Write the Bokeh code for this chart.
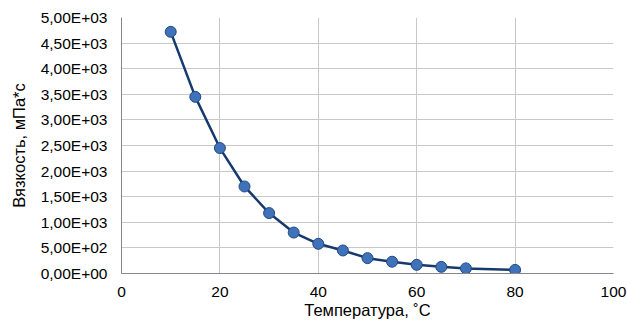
from bokeh.plotting import figure
from bokeh.models import FixedTicker, Range1d
from bokeh.embed import file_html
from bokeh.resources import INLINE

temperature = [10, 15, 20, 25, 30, 35, 40, 45, 50, 55, 60, 65, 70, 80]
viscosity = [4720, 3450, 2450, 1700, 1180, 800, 580, 450, 300, 230, 170, 130, 100, 70]

x_ticks = [0, 20, 40, 60, 80, 100]
y_ticks = [0, 500, 1000, 1500, 2000, 2500, 3000, 3500, 4000, 4500, 5000]
y_tick_labels = ["0,00E+00", "5,00E+02", "1,00E+03", "1,50E+03", "2,00E+03", "2,50E+03",
                 "3,00E+03", "3,50E+03", "4,00E+03", "4,50E+03", "5,00E+03"]

FONT = "Liberation Sans"

p = figure(frame_width=492, frame_height=256, output_backend="svg", toolbar_location=None,
           x_range=Range1d(0, 100), y_range=Range1d(0, 5000),
           min_border_left=121, min_border_right=14, min_border_top=17, min_border_bottom=51)
p.outline_line_color = None
p.background_fill_color = "white"
p.border_fill_color = "white"

p.xaxis.ticker = FixedTicker(ticks=x_ticks)
p.yaxis.ticker = FixedTicker(ticks=y_ticks)
p.yaxis.major_label_overrides = {t: l for t, l in zip(y_ticks, y_tick_labels)}

for ax in (p.xaxis, p.yaxis):
    ax.axis_line_color = "#868686"
    ax.major_tick_line_color = None
    ax.minor_tick_line_color = None
    ax.major_tick_in = 0
    ax.major_tick_out = 0
    ax.minor_tick_in = 0
    ax.minor_tick_out = 0
    ax.major_label_text_font = FONT
    ax.major_label_text_font_size = "15.5px"
    ax.major_label_text_color = "#000000"
    ax.axis_label_text_font = FONT
    ax.axis_label_text_font_size = "16.5px"
    ax.axis_label_text_font_style = "normal"
    ax.axis_label_text_color = "#000000"

p.xaxis.axis_label = "Температура, ˚С"
p.yaxis.axis_label = "Вязкость, мПа*с"
p.xaxis.major_label_standoff = 13
p.xaxis.axis_label_standoff = 1
p.yaxis.major_label_standoff = 14
p.yaxis.axis_label_standoff = 10

p.xgrid.ticker = FixedTicker(ticks=x_ticks)
p.ygrid.ticker = FixedTicker(ticks=y_ticks)
p.xgrid.grid_line_color = "#c8c8c8"
p.ygrid.grid_line_color = "#c8c8c8"
p.xgrid.grid_line_width = 1
p.ygrid.grid_line_width = 1

p.line(temperature, viscosity, line_color="#173a6e", line_width=2.5)
p.scatter(temperature, viscosity, size=11, fill_color="#3f72b8",
          line_color="#1f4a86", line_width=1)

open("out.html", "w").write(file_html(p, INLINE))
